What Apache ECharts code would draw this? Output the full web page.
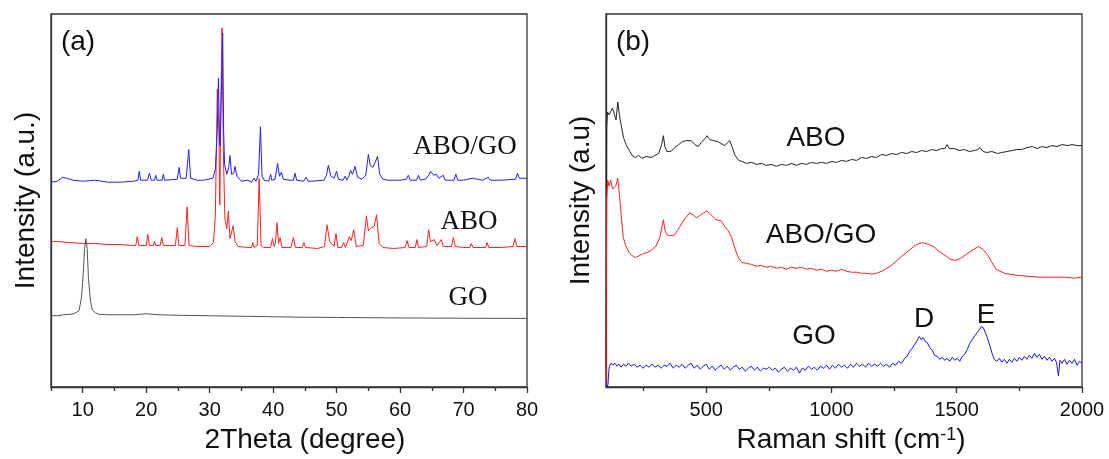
<!DOCTYPE html>
<html>
<head>
<meta charset="utf-8">
<script src="https://cdn.jsdelivr.net/npm/echarts@6/dist/echarts.min.js"></script>
<style>
html,body{margin:0;padding:0;background:#fff;}
#chart{width:1109px;height:459px;}
</style>
</head>
<body>
<div id="chart"></div>
<script>
// ---------- tick values ----------
const xrdTicks = [10, 20, 30, 40, 50, 60, 70, 80];
const xrdMinorTicks = [5, 15, 25, 35, 45, 55, 65, 75];
const ramanTicks = [500, 1000, 1500, 2000];
const ramanMinorTicks = [250, 750, 1250, 1750];

// ---------- (a) XRD, [2theta, intensity a.u.] ----------
const xrdGO = [[5,72],[6,72],[7,73],[8,73.5],[8.6,74],[9.4,77],[9.8,90],[10.05,112],[10.3,140],[10.5,150],[10.7,140],[10.9,110],[11.2,88],[11.5,78],[12,75],[12.5,73.5],[14,73],[16,73],[18,73],[20,74],[22,73],[25,72.5],[30,72],[35,71.5],[40,71],[45,70.5],[50,70.3],[60,69.8],[70,69.5],[80,69.3]];

const xrdABO = [[5,147],[6,147],[8,146],[10,145],[12,145],[14,144],[16,144],[18,143],[18.35,143],[18.6,152],[18.85,143],[20.0,143],[20.25,154],[20.5,143],[21.1,143],[21.3,147],[21.5,143],[22.2,143],[22.45,151],[22.7,143],[24.6,143],[24.9,161],[25.15,143],[26.1,143],[26.45,182],[26.75,143],[28,142],[30,142],[30.6,146],[30.9,175],[31.2,301],[31.45,260],[31.6,184],[31.75,280],[31.95,363],[32.15,240],[32.4,170],[32.7,160],[32.95,178],[33.2,150],[33.45,150],[33.7,163],[34.0,147],[34.5,142],[36,141],[36.6,141],[36.8,146],[37.0,141],[37.5,143],[37.8,211],[38.1,143],[38.5,141],[39.6,141],[39.9,150],[40.15,142],[40.35,145],[40.6,166],[40.85,145],[41.1,151],[41.4,141],[42.8,141],[43.2,151],[43.5,141],[44.6,141],[44.85,146],[45.1,141],[47,140],[48.1,142],[48.5,164],[48.9,147],[49.6,142],[49.9,155],[50.2,141],[50.8,141],[51.1,146],[51.4,141],[51.7,142],[52.0,152],[52.3,148],[52.7,159],[53.1,142],[54.2,143],[54.7,173],[55.0,158],[55.45,161],[55.9,162],[56.3,174],[56.7,145],[57.3,141],[59,140],[60.8,141],[61.1,148],[61.4,141],[62.4,141],[62.65,149],[62.9,141],[64.2,142],[64.5,159],[64.8,147],[65.4,149],[65.8,143],[66.5,149],[66.8,142],[68.1,142],[68.4,151],[68.7,142],[70,141],[71.0,141],[71.2,145],[71.5,141],[73.5,141],[73.7,146],[74.0,141],[76,141],[77.8,142],[78.1,150],[78.4,142],[80,142]];

const xrdABOGO = [[5,207],[6,208],[6.8,212],[7.5,211],[8.5,209],[10,208],[12,209],[14,207],[16,207],[18,208],[18.7,209],[18.9,218],[19.1,209],[20.2,209],[20.5,216],[20.8,209],[21.3,209],[21.5,214],[21.7,209],[22.5,209],[22.7,215],[22.9,209],[24.9,210],[25.2,222],[25.4,211],[26.3,211],[26.7,240],[27.0,211],[28,209],[29,209],[30.5,211],[30.9,220],[31.2,260],[31.38,312],[31.55,250],[31.65,244],[31.85,300],[32.05,358],[32.2,260],[32.35,225],[32.7,215],[33.0,222],[33.2,234],[33.45,215],[33.8,216],[34.0,223],[34.3,213],[35,208],[36,209],[36.6,207],[37.0,211],[37.3,208],[37.7,215],[38.0,263],[38.25,213],[38.6,209],[39.3,208],[39.6,215],[39.8,209],[40.3,210],[40.7,226],[41.0,213],[41.3,217],[41.6,210],[42.5,209],[43.2,209],[43.45,216],[43.7,209],[44.8,208],[45.2,212],[45.5,208],[46,208],[48,209],[48.4,214],[48.7,224],[49.1,213],[49.6,211],[50.0,218],[50.3,210],[51.0,209],[51.35,213],[51.6,209],[52.0,214],[52.2,219],[52.5,215],[52.9,223],[53.3,212],[54,210],[54.6,214],[55.0,235],[55.3,224],[55.7,222],[56.0,226],[56.45,233],[56.8,215],[57.3,210],[58,209],[60,209],[61.0,210],[61.3,214],[61.6,209],[62.6,209],[62.9,214],[63.2,209],[64.0,210],[64.5,214],[64.8,218],[65.3,214],[65.7,215],[66.1,211],[66.8,214],[67.1,209],[68.5,209],[68.8,215],[69.1,209],[70,209],[71.4,211],[71.7,209],[73,209],[73.9,212],[74.2,209],[76,209],[78.2,210],[78.5,216],[78.8,211],[80,211]];

// ---------- (b) Raman, [shift cm-1, intensity a.u.] ----------
const ramanABO = [[100,20],[103,262],[106,278],[112,275],[119,276],[126,282],[132,280],[140,270],[147,288],[153,276],[161,264],[170,252],[182,244],[195,238],[205,234],[217,232],[230,234],[245,231],[260,233],[280,232],[295,234],[310,236],[322,245],[329,254],[335,243],[343,238],[355,238],[363,239],[375,242],[390,245],[405,248],[420,249],[440,249],[455,245],[468,243],[480,247],[495,251],[503,254],[515,250],[530,249],[546,248],[560,246],[574,244],[585,247],[594,249],[603,243],[615,234],[630,229],[643,228],[660,226],[680,227],[700,225],[720,226],[740,224],[760,225],[780,223],[800,225],[820,224],[840,226],[860,224],[880,226],[900,225],[920,227],[940,226],[960,227],[980,226],[1000,228],[1020,227],[1040,229],[1060,228],[1080,230],[1100,229],[1120,232],[1140,231],[1160,233],[1180,232],[1200,235],[1220,234],[1240,236],[1260,235],[1280,237],[1300,236],[1320,238],[1340,237],[1360,239],[1380,238],[1400,240],[1420,239],[1440,241],[1453,241],[1462,245],[1470,241],[1490,241],[1510,239],[1530,240],[1550,238],[1570,239],[1585,240],[1593,242],[1605,238],[1620,237],[1640,238],[1663,236],[1680,237],[1700,238],[1720,239],[1740,240],[1760,240],[1780,242],[1803,243],[1820,241],[1840,243],[1860,242],[1880,244],[1900,243],[1920,245],[1943,244],[1960,245],[1980,244],[2000,244]];

const ramanABOGO = [[100,2],[103,190],[107,209],[112,203],[119,209],[126,200],[133,198],[140,204],[147,211],[153,196],[160,175],[169,151],[180,142],[192,136],[203,133],[217,131],[235,133],[250,135],[265,136],[280,138],[298,142],[315,151],[322,160],[329,169],[336,158],[343,154],[357,153],[371,153],[385,158],[399,164],[415,170],[434,176],[448,174],[462,171],[478,174],[490,176],[503,178],[520,174],[539,169],[560,168],[574,162],[588,158],[602,151],[612,142],[623,134],[633,129],[643,126],[660,125],[680,124],[700,122],[720,123],[740,121],[760,122],[780,120],[800,121],[820,119],[840,121],[860,120],[880,121],[900,119],[920,120],[940,118],[960,119],[980,117],[1000,118],[1020,117],[1040,119],[1060,117],[1080,116],[1100,116],[1120,115],[1140,115],[1160,114],[1180,115],[1210,118],[1244,124],[1280,132],[1314,139],[1340,144],[1363,146],[1390,144],[1412,141],[1435,136],[1454,133],[1475,129],[1496,128],[1515,130],[1538,134],[1560,138],[1587,142],[1605,139],[1622,134],[1640,126],[1657,119],[1690,115],[1734,113],[1780,112],[1830,111],[1874,111],[1930,111],[1970,110],[2000,111]];

const ramanGO = [[105,0],[108,3],[111,16],[114,21],[120,24],[128,22],[136,24],[144,21],[152,23],[160,20],[170,23],[180,21],[190,24],[200,21],[212,23],[224,20],[236,22],[248,19],[260,22],[272,20],[284,23],[296,20],[308,22],[320,19],[332,22],[344,21],[356,24],[368,19],[380,22],[392,20],[404,23],[416,19],[428,22],[440,24],[452,19],[464,22],[476,18],[488,21],[500,23],[512,18],[524,21],[536,17],[548,20],[560,22],[572,18],[584,21],[596,17],[608,20],[620,22],[632,18],[644,20],[656,16],[668,19],[680,21],[692,17],[704,20],[716,16],[728,19],[740,18],[752,20],[764,17],[776,19],[788,15],[800,18],[812,20],[824,16],[836,19],[848,17],[860,20],[872,14],[884,19],[896,17],[908,21],[920,18],[932,20],[944,17],[956,21],[968,19],[980,22],[992,18],[1004,22],[1016,19],[1028,23],[1040,20],[1052,22],[1064,19],[1076,23],[1088,20],[1100,24],[1112,21],[1124,23],[1136,20],[1148,24],[1160,21],[1172,23],[1184,21],[1196,24],[1208,21],[1220,23],[1232,20],[1244,24],[1256,22],[1268,26],[1280,24],[1292,29],[1302,31],[1312,36],[1322,39],[1332,43],[1342,47],[1350,51],[1358,48],[1366,50],[1374,46],[1382,45],[1392,40],[1402,37],[1412,32],[1422,31],[1432,28],[1442,30],[1452,27],[1462,29],[1472,26],[1482,30],[1492,27],[1502,29],[1512,26],[1522,31],[1532,33],[1542,38],[1552,44],[1562,48],[1572,52],[1582,55],[1590,58],[1598,61],[1606,60],[1614,55],[1622,50],[1632,42],[1642,33],[1650,28],[1660,26],[1670,29],[1680,25],[1690,28],[1700,24],[1710,28],[1720,25],[1730,29],[1740,26],[1750,30],[1760,27],[1770,31],[1780,28],[1790,32],[1800,29],[1810,34],[1820,30],[1830,33],[1840,28],[1850,31],[1860,27],[1870,30],[1880,26],[1890,29],[1898,25],[1906,11],[1912,27],[1920,24],[1930,28],[1940,23],[1950,27],[1960,24],[1970,28],[1980,22],[1990,26],[2000,24]];

// ---------- styling ----------
const SANS = '"Liberation Sans", Arial, sans-serif';
const SERIF = '"Liberation Serif", "Times New Roman", serif';
const AX = '#333';
const axLine = {show: true, lineStyle: {color: AX, width: 1.3}};

function majorX(grid, min, max, ticks, name, gap, padLeft, rich) {
  return {
    gridIndex: grid, type: 'value', min: min, max: max, position: 'bottom',
    axisLine: axLine,
    axisTick: {show: true, inside: false, length: 6, customValues: ticks, lineStyle: {color: AX, width: 1.3}},
    axisLabel: {show: true, customValues: ticks, fontSize: 20, fontFamily: SANS, color: '#111', margin: 13,
      formatter: function (v) { return String(v); }},
    splitLine: {show: false},
    name: name, nameLocation: 'middle', nameGap: gap,
    nameTextStyle: {fontSize: 28, fontFamily: SANS, color: '#111', padding: [0, 0, 0, padLeft], rich: rich}
  };
}
function minorX(grid, min, max, ticks) {
  return {
    gridIndex: grid, type: 'value', min: min, max: max, position: 'bottom',
    axisLine: {show: false},
    axisTick: {show: true, inside: false, length: 4, customValues: ticks, lineStyle: {color: AX, width: 1.3}},
    axisLabel: {show: false},
    splitLine: {show: false}
  };
}
function yAx(grid, name) {
  return {
    gridIndex: grid, type: 'value', min: 0, max: 377,
    axisLine: axLine, axisTick: {show: false}, axisLabel: {show: false}, splitLine: {show: false},
    name: name, nameLocation: 'middle', nameGap: 11,
    nameTextStyle: {fontSize: 28, fontFamily: SANS, color: '#111'}
  };
}
function line(data, xi, yi, color, w) {
  return {type: 'line', data: data, xAxisIndex: xi, yAxisIndex: yi, showSymbol: false, symbol: 'none',
    lineStyle: {color: color, width: w}, itemStyle: {color: color}, silent: true, animation: false, z: 3};
}
function label(text, x, y, font, size) {
  return {type: 'text', x: x, y: y, z: 10, style: {text: text, fontSize: size, fontFamily: font, fill: '#111',
    align: 'center', verticalAlign: 'middle', textAlign: 'center', textVerticalAlign: 'middle'}};
}

const chart = echarts.init(document.getElementById('chart'), null, {renderer: 'canvas'});
chart.setOption({
  backgroundColor: '#ffffff',
  animation: false,
  grid: [
    {left: 51, top: 14, width: 476, height: 377, show: true, borderColor: AX, borderWidth: 1.3, backgroundColor: 'transparent'},
    {left: 606, top: 14, width: 476, height: 377, show: true, borderColor: AX, borderWidth: 1.3, backgroundColor: 'transparent'}
  ],
  xAxis: [
    majorX(0, 5, 80, xrdTicks, '2Theta (degree)', 39, 32),
    minorX(0, 5, 80, xrdMinorTicks),
    majorX(1, 100, 2000, ramanTicks, 'Raman shift (cm{sup|-1})', 39, 14, {sup: {fontSize: 18, fontFamily: SANS, color: '#111', verticalAlign: 'top', lineHeight: 18}}),
    minorX(1, 100, 2000, ramanMinorTicks)
  ],
  yAxis: [yAx(0, 'Intensity (a.u.)'), yAx(1, 'Intensity (a.u)')],
  series: [
    line(xrdGO, 0, 0, '#555555', 1),
    line(xrdABO, 0, 0, '#ff2020', 1),
    line(xrdABOGO, 0, 0, '#2020ff', 1),
    line(ramanABO, 2, 1, '#222222', 1),
    line(ramanABOGO, 2, 1, '#ff2020', 1),
    line(ramanGO, 2, 1, '#1515ff', 1)
  ],
  graphic: [
    label('(a)', 78, 42, SANS, 28),
    label('(b)', 633, 42, SANS, 28),
    label('ABO/GO', 465, 147, SERIF, 27),
    label('ABO', 469, 222, SERIF, 27),
    label('GO', 468, 298, SERIF, 27),
    label('ABO', 816, 138, SANS, 28),
    label('ABO/GO', 821, 235, SANS, 28),
    label('GO', 814, 336, SANS, 28),
    label('D', 924, 319, SANS, 28),
    label('E', 986, 315, SANS, 28)
  ]
});
</script>
</body>
</html>
